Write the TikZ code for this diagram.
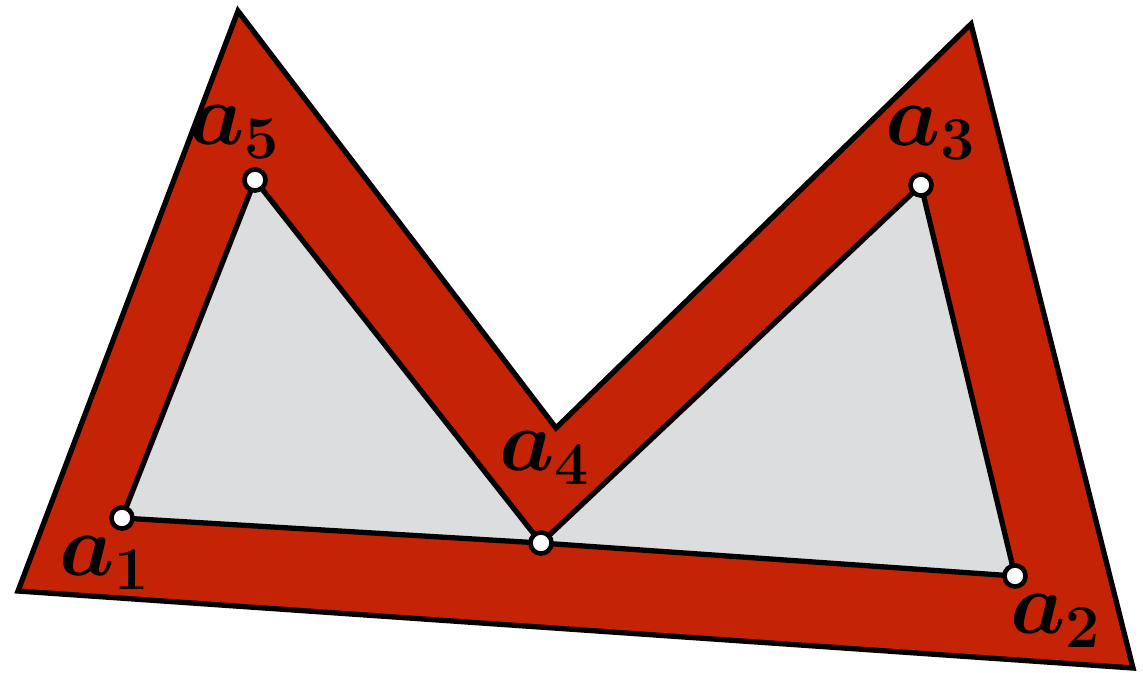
\documentclass[tikz,border=0pt]{standalone}
\usepackage{amsmath}
\usepackage{xcolor}
\definecolor{framered}{RGB}{197,35,6}
\definecolor{innergray}{RGB}{220,221,223}
\usetikzlibrary{calc}

\newcommand{\vlabel}[1]{{\boldmath$a_{#1}$}}

\begin{document}
\begin{tikzpicture}[
    x=0.01cm, y=-0.01cm,
    outline/.style={draw=black, line width=1.5pt, line join=miter},
    vertex/.style={circle, draw=black, fill=white, line width=1.3pt, inner sep=0pt, minimum size=6pt},
    lbl/.style={font=\fontsize{24}{28}\selectfont, inner sep=0pt}
  ]
  \useasboundingbox (0,0) rectangle (1143,672);

  % outer frame corners
  \coordinate (o1) at (18,591);
  \coordinate (o5) at (238,11);
  \coordinate (o4) at (556,428);
  \coordinate (o3) at (971,24);
  \coordinate (o2) at (1133,668);

  % inner points
  \coordinate (a1) at (122,518);
  \coordinate (a5) at (255,180);
  \coordinate (a4) at (541,543);
  \coordinate (a3) at (921,185);
  \coordinate (a2) at (1015,576);

  \path[outline, fill=framered] (o1) -- (o5) -- (o4) -- (o3) -- (o2) -- cycle;

  % soft shadow of the inner region
  \foreach \s/\o in {12/0.06, 9/0.08, 6/0.12, 3/0.16} {
    \fill[black, opacity=\o, yshift=-\s*0.01cm]
      (a1) -- (a5) -- (a4) -- (a3) -- (a2) -- (a4) -- cycle;
  }

  \path[outline, fill=innergray] (a1) -- (a5) -- (a4) -- (a3) -- (a2) -- (a4) -- cycle;

  \foreach \i in {1,...,5} {
    \node[vertex] (v\i) at (a\i) {};
  }

  \node[lbl] (l1) at (105,563) {\vlabel{1}};
  \node[lbl] (l2) at (1056,621) {\vlabel{2}};
  \node[lbl] (l3) at (931,133) {\vlabel{3}};
  \node[lbl] (l4) at (545,458) {\vlabel{4}};
  \node[lbl] (l5) at (235,132) {\vlabel{5}};
\end{tikzpicture}
\end{document}
